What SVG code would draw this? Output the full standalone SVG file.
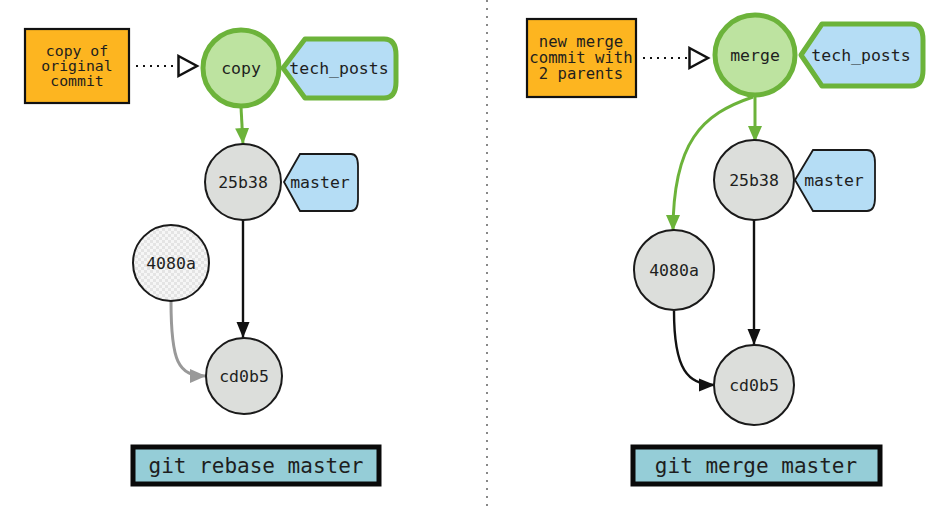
<svg xmlns="http://www.w3.org/2000/svg" width="944" height="508" viewBox="0 0 944 508">
<style>
.t{font-family:"DejaVu Sans Mono","Liberation Mono",monospace;fill:#1e1e1e;text-anchor:middle}
.commit{fill:#dcdedb;stroke:#1a1a1a;stroke-width:2}
.cur{fill:#bde3a0;stroke:#6cb33a;stroke-width:5}
.tag{fill:#b5ddf5;stroke:#1a1a1a;stroke-width:1.8}
.tagc{fill:#b5ddf5;stroke:#6cb33a;stroke-width:5;stroke-linejoin:round}
.note{fill:#fdb520;stroke:#111;stroke-width:2.2}
.cmd{fill:#95cdd7;stroke:#0a0a0a;stroke-width:5}
.blk{fill:none;stroke:#111;stroke-width:2.4}
.grn{fill:none;stroke:#6cb33a;stroke-width:3}
.gry{fill:none;stroke:#999;stroke-width:3}
.dot{fill:none;stroke:#111;stroke-width:2;stroke-dasharray:2 5}
</style>
<defs>
<marker id="ab" markerUnits="userSpaceOnUse" markerWidth="18" markerHeight="16" refX="16" refY="8" orient="auto"><path d="M0,1.5 L16,8 L0,14.5 Z" fill="#111"/></marker>
<marker id="ag" markerUnits="userSpaceOnUse" markerWidth="18" markerHeight="16" refX="16" refY="8" orient="auto"><path d="M0,1 L16,8 L0,15 Z" fill="#6cb33a"/></marker>
<marker id="ay" markerUnits="userSpaceOnUse" markerWidth="18" markerHeight="16" refX="16" refY="8" orient="auto"><path d="M0,1 L16,8 L0,15 Z" fill="#999"/></marker>
<marker id="ao" markerUnits="userSpaceOnUse" markerWidth="24" markerHeight="26" refX="21" refY="12" orient="auto"><path d="M1.5,2 L20,12 L1.5,22 Z" fill="#fff" stroke="#111" stroke-width="2.5"/></marker>
<pattern id="chk" width="6" height="6" patternUnits="userSpaceOnUse"><rect width="6" height="6" fill="#f6f6f6"/><rect width="3" height="3" fill="#e4e4e4"/><rect x="3" y="3" width="3" height="3" fill="#e4e4e4"/></pattern>
</defs>
<rect width="944" height="508" fill="#fff"/>
<line x1="487" y1="0" x2="487" y2="508" stroke="#888" stroke-width="2" stroke-dasharray="2 6"/>

<g id="connectors">
<line class="dot" x1="136" y1="66" x2="198" y2="66" marker-end="url(#ao)"/>
<line class="grn" x1="241" y1="107" x2="243" y2="144" marker-end="url(#ag)"/>
<line class="blk" x1="243" y1="220" x2="243" y2="338" marker-end="url(#ab)"/>
<path class="gry" d="M171,301 C171,362 178,376 206,376" marker-end="url(#ay)"/>
<line class="dot" x1="643" y1="58" x2="709" y2="58" marker-end="url(#ao)"/>
<line class="grn" x1="755" y1="96" x2="755" y2="142" marker-end="url(#ag)"/>
<path class="grn" d="M753,97 C702,114 673,142 673,231" marker-end="url(#ag)"/>
<line class="blk" x1="754" y1="220" x2="754" y2="345" marker-end="url(#ab)"/>
<path class="blk" d="M674,311 C674,370 688,385 715,385" marker-end="url(#ab)"/>
</g>

<g id="note-left"><rect class="note" x="25" y="29" width="104" height="74"/>
<text class="t" x="77" y="56" font-size="14.8">copy of</text>
<text class="t" x="77" y="71" font-size="14.8">original</text>
<text class="t" x="77" y="86" font-size="14.8">commit</text></g>

<g id="copy"><circle class="cur" cx="241" cy="68" r="38"/><text class="t" x="241" y="74" font-size="16.5">copy</text></g>
<g id="tech_posts-left"><path class="tagc" d="M283,68 L305,39 L384,39 Q396,39 396,55 L396,82 Q396,98 384,98 L305,98 Z"/><text class="t" x="339" y="74" font-size="16.5">tech_posts</text></g>
<g id="25b38-left"><circle class="commit" cx="243" cy="182" r="38"/><text class="t" x="243" y="188" font-size="16.5">25b38</text></g>
<g id="master-left"><path class="tag" d="M284,182 L300,154 L351,154 Q358,154 358,166 L358,199 Q358,211 351,211 L300,211 Z"/><text class="t" x="320" y="188" font-size="16.5">master</text></g>
<g id="4080a-left"><circle cx="171" cy="263" r="38" fill="url(#chk)" stroke="#1a1a1a" stroke-width="2"/><text class="t" x="171" y="269" font-size="16.5">4080a</text></g>
<g id="cd0b5-left"><circle class="commit" cx="244" cy="376" r="38"/><text class="t" x="244" y="382" font-size="16.5">cd0b5</text></g>
<g id="cmd-left"><rect class="cmd" x="133" y="447" width="246" height="37"/><text class="t" x="256" y="473" font-size="21">git rebase master</text></g>

<g id="note-right"><rect class="note" x="527" y="19" width="109" height="78"/>
<text class="t" x="581" y="47" font-size="15.6">new merge</text>
<text class="t" x="581" y="63" font-size="15.6">commit with</text>
<text class="t" x="581" y="79" font-size="15.6">2 parents</text></g>

<g id="merge"><circle class="cur" cx="755" cy="55" r="40"/><text class="t" x="755" y="61" font-size="16.5">merge</text></g>
<g id="tech_posts-right"><path class="tagc" d="M801,55 L822,24 L911,24 Q923,24 923,40 L923,70 Q923,86 911,86 L822,86 Z"/><text class="t" x="861" y="61" font-size="16.5">tech_posts</text></g>
<g id="25b38-right"><circle class="commit" cx="754" cy="180" r="40"/><text class="t" x="754" y="186" font-size="16.5">25b38</text></g>
<g id="master-right"><path class="tag" d="M795,180 L813,150 L867,150 Q875,150 875,163 L875,198 Q875,211 867,211 L813,211 Z"/><text class="t" x="834" y="186" font-size="16.5">master</text></g>
<g id="4080a-right"><circle class="commit" cx="674" cy="270" r="40"/><text class="t" x="674" y="276" font-size="16.5">4080a</text></g>
<g id="cd0b5-right"><circle class="commit" cx="754" cy="385" r="40"/><text class="t" x="754" y="391" font-size="16.5">cd0b5</text></g>
<g id="cmd-right"><rect class="cmd" x="633" y="447" width="247" height="37"/><text class="t" x="756" y="473" font-size="21">git merge master</text></g>
</svg>
